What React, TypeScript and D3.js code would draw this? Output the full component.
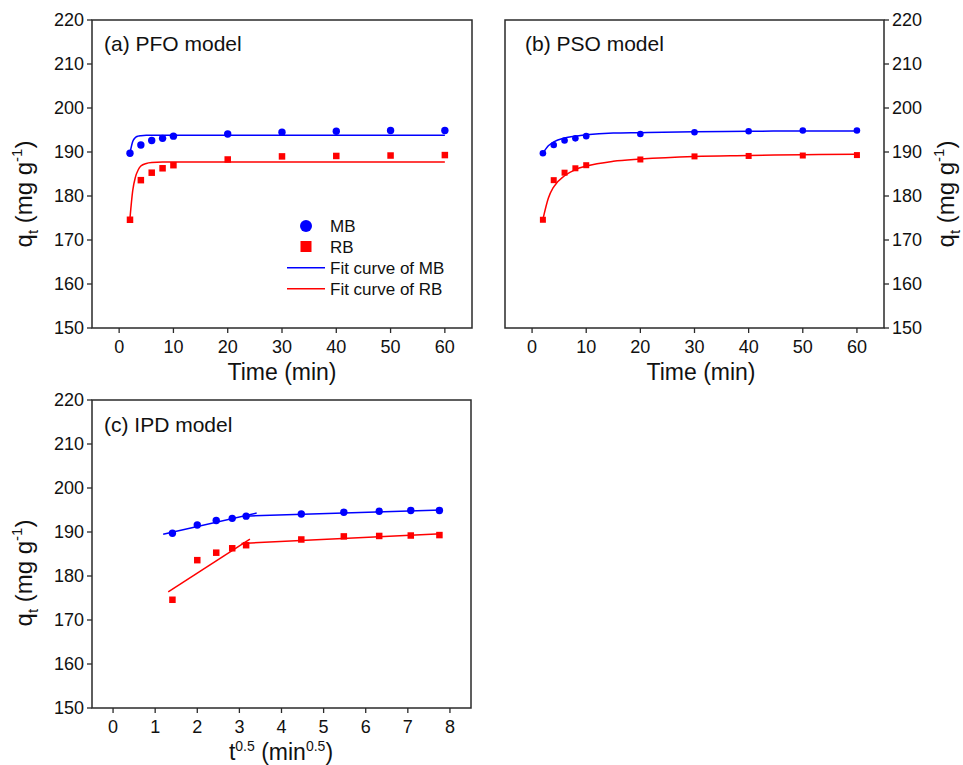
import React from "react";
import * as d3 from "d3";

// ---- data ----
const timeMin = [2, 4, 6, 8, 10, 20, 30, 40, 50, 60];
const sqrtTime = [1.41, 2.0, 2.45, 2.83, 3.16, 4.47, 5.48, 6.32, 7.07, 7.75];
const mbQt = [189.7, 191.6, 192.6, 193.1, 193.6, 194.1, 194.5, 194.7, 194.9, 194.9];
const rbQt = [174.6, 183.6, 185.3, 186.3, 187.0, 188.3, 189.0, 189.1, 189.2, 189.3];

// PFO fit curves
const pfoMbT = [2, 2.5, 3, 3.5, 4, 5, 6, 8, 10, 60];
const pfoMbQ = [189.8, 192.4, 193.3, 193.6, 193.7, 193.8, 193.8, 193.8, 193.8, 193.8];
const pfoRbT = [2, 2.5, 3, 3.5, 4, 5, 6, 8, 60];
const pfoRbQ = [175.0, 181.2, 184.3, 185.9, 186.8, 187.4, 187.6, 187.7, 187.7];

// PSO fit curves
const psoT = [2, 3, 4, 6, 8, 10, 15, 20, 30, 40, 50, 60];
const psoMbQ = [189.7, 191.4, 192.3, 193.2, 193.6, 193.9, 194.3, 194.4, 194.6, 194.7, 194.8, 194.8];
const psoRbQ = [174.7, 179.5, 182.1, 184.6, 186.0, 186.8, 187.9, 188.4, 189.0, 189.2, 189.4, 189.5];

// IPD fit segments
const ipdMb1X = [1.19, 3.41];
const ipdMb1Q = [189.5, 194.3];
const ipdMb2X = [3.13, 7.8];
const ipdMb2Q = [193.6, 195.0];
const ipdRb1X = [1.31, 3.25];
const ipdRb1Q = [176.4, 188.4];
const ipdRb2X = [3.05, 7.8];
const ipdRb2Q = [187.4, 189.6];

const yTicks = [150, 160, 170, 180, 190, 200, 210, 220];
const timeTicks = [0, 10, 20, 30, 40, 50, 60];
const sqrtTicks = [0, 1, 2, 3, 4, 5, 6, 7, 8];

const legendLabels = ["MB", "RB", "Fit curve of MB", "Fit curve of RB"];

const BLUE = "#0000ff";
const RED = "#ff0000";
const FONT = "'Liberation Sans', Arial, Helvetica, sans-serif";
const AXIS = "#2a2a2a";

type Series = { x: number[]; y: number[] };

type PanelProps = {
  left: number;
  right: number;
  top: number;
  bottom: number;
  xDomain: [number, number];
  xTicks: number[];
  yAxisRight?: boolean;
  title: string;
  mbPts: Series;
  rbPts: Series;
  mbFits: Series[];
  rbFits: Series[];
  curved: boolean;
  r: number;
  sq: number;
  xTitle: React.ReactNode;
  xTitleX: number;
  xTitleY: number;
  tickLabelY: number;
  yTitleX: number;
  yTitleY: number;
  titleX: number;
  titleY: number;
  legend?: boolean;
};

function Panel(p: PanelProps) {
  const x = d3.scaleLinear().domain(p.xDomain).range([p.left, p.right]);
  const y = d3.scaleLinear().domain([150, 220]).range([p.bottom, p.top]);
  const line = d3
    .line<[number, number]>()
    .x((d) => x(d[0]))
    .y((d) => y(d[1]))
    .curve(p.curved ? d3.curveMonotoneX : d3.curveLinear);
  const toPairs = (s: Series) => s.x.map((v, i) => [v, s.y[i]] as [number, number]);
  const axisX = p.yAxisRight ? p.right : p.left;
  const tickDir = p.yAxisRight ? 1 : -1;
  return (
    <g>
      {p.mbFits.map((s, i) => (
        <path key={"mf" + i} d={line(toPairs(s)) || ""} fill="none" stroke={BLUE} strokeWidth={1.5} />
      ))}
      {p.rbFits.map((s, i) => (
        <path key={"rf" + i} d={line(toPairs(s)) || ""} fill="none" stroke={RED} strokeWidth={1.5} />
      ))}
      {p.mbPts.x.map((v, i) => (
        <circle key={"mp" + i} cx={x(v)} cy={y(p.mbPts.y[i])} r={p.r} fill={BLUE} />
      ))}
      {p.rbPts.x.map((v, i) => (
        <rect
          key={"rp" + i}
          x={x(v) - p.sq / 2}
          y={y(p.rbPts.y[i]) - p.sq / 2}
          width={p.sq}
          height={p.sq}
          fill={RED}
        />
      ))}
      <rect
        x={p.left}
        y={p.top}
        width={p.right - p.left}
        height={p.bottom - p.top}
        fill="none"
        stroke={AXIS}
        strokeWidth={1.5}
      />
      {yTicks.map((t) => (
        <g key={"yt" + t}>
          <line x1={axisX} x2={axisX + tickDir * 5} y1={y(t)} y2={y(t)} stroke={AXIS} strokeWidth={1.3} />
          <text
            x={axisX + tickDir * 8}
            y={y(t)}
            dy="0.36em"
            textAnchor={p.yAxisRight ? "start" : "end"}
            fontSize={18}
            fontFamily={FONT}
            fill="#111"
          >
            {t}
          </text>
        </g>
      ))}
      {p.xTicks.map((t) => (
        <g key={"xt" + t}>
          <line x1={x(t)} x2={x(t)} y1={p.bottom} y2={p.bottom + 5} stroke={AXIS} strokeWidth={1.3} />
          <text x={x(t)} y={p.tickLabelY} textAnchor="middle" fontSize={18} fontFamily={FONT} fill="#111">
            {t}
          </text>
        </g>
      ))}
      <text x={p.xTitleX} y={p.xTitleY} textAnchor="middle" fontSize={23} fontFamily={FONT} fill="#111">
        {p.xTitle}
      </text>
      <text
        transform={`translate(${p.yTitleX},${p.yTitleY}) rotate(-90)`}
        textAnchor="middle"
        fontSize={24}
        fontFamily={FONT}
        fill="#111"
      >
        q<tspan dy={6} fontSize={15}>t</tspan>
        <tspan dy={-6}> (mg g</tspan>
        <tspan dy={-10} fontSize={15}>-1</tspan>
        <tspan dy={10}>)</tspan>
      </text>
      <text x={p.titleX} y={p.titleY} fontSize={21} fontFamily={FONT} fill="#111">
        {p.title}
      </text>
      {p.legend && (
        <g fontFamily={FONT} fontSize={17} fill="#111">
          <circle cx={306} cy={226} r={6} fill={BLUE} />
          <text x={330} y={232}>{legendLabels[0]}</text>
          <rect x={300.5} y={241} width={11} height={11} fill={RED} />
          <text x={330} y={252.5}>{legendLabels[1]}</text>
          <line x1={287} x2={325} y1={267.7} y2={267.7} stroke={BLUE} strokeWidth={1.5} />
          <text x={330} y={274}>{legendLabels[2]}</text>
          <line x1={287} x2={325} y1={288.7} y2={288.7} stroke={RED} strokeWidth={1.5} />
          <text x={330} y={295}>{legendLabels[3]}</text>
        </g>
      )}
    </g>
  );
}

export default function App() {
  const timeTitle = <>Time (min)</>;
  const sqrtTitle = (
    <>
      t<tspan dy={-9} fontSize={14}>0.5</tspan>
      <tspan dy={9}> (min</tspan>
      <tspan dy={-9} fontSize={14}>0.5</tspan>
      <tspan dy={9}>)</tspan>
    </>
  );
  return (
    <svg
      width={963}
      height={765}
      style={{ position: "absolute", left: 0, top: 0, background: "#fff" }}
    >
      <rect width={963} height={765} fill="#fff" />
      <Panel
        left={92}
        right={472}
        top={20}
        bottom={328}
        xDomain={[-5, 65]}
        xTicks={timeTicks}
        title="(a) PFO model"
        mbPts={{ x: timeMin, y: mbQt }}
        rbPts={{ x: timeMin, y: rbQt }}
        mbFits={[{ x: pfoMbT, y: pfoMbQ }]}
        rbFits={[{ x: pfoRbT, y: pfoRbQ }]}
        curved={true}
        r={3.7}
        sq={6.5}
        xTitle={timeTitle}
        xTitleX={282}
        xTitleY={380}
        tickLabelY={353}
        yTitleX={32}
        yTitleY={194}
        titleX={104}
        titleY={51}
        legend={true}
      />
      <Panel
        left={505}
        right={884}
        top={20}
        bottom={328}
        xDomain={[-5, 65]}
        xTicks={timeTicks}
        yAxisRight={true}
        title="(b) PSO model"
        mbPts={{ x: timeMin, y: mbQt }}
        rbPts={{ x: timeMin, y: rbQt }}
        mbFits={[{ x: psoT, y: psoMbQ }]}
        rbFits={[{ x: psoT, y: psoRbQ }]}
        curved={true}
        r={3.3}
        sq={6}
        xTitle={timeTitle}
        xTitleX={701}
        xTitleY={380}
        tickLabelY={353}
        yTitleX={954}
        yTitleY={194}
        titleX={525}
        titleY={51}
      />
      <Panel
        left={92}
        right={471}
        top={400}
        bottom={708}
        xDomain={[-0.5, 8.5]}
        xTicks={sqrtTicks}
        title="(c) IPD model"
        mbPts={{ x: sqrtTime, y: mbQt }}
        rbPts={{ x: sqrtTime, y: rbQt }}
        mbFits={[
          { x: ipdMb1X, y: ipdMb1Q },
          { x: ipdMb2X, y: ipdMb2Q },
        ]}
        rbFits={[
          { x: ipdRb1X, y: ipdRb1Q },
          { x: ipdRb2X, y: ipdRb2Q },
        ]}
        curved={false}
        r={3.7}
        sq={6.5}
        xTitle={sqrtTitle}
        xTitleX={281}
        xTitleY={760}
        tickLabelY={733}
        yTitleX={32}
        yTitleY={573}
        titleX={104}
        titleY={432}
      />
    </svg>
  );
}
